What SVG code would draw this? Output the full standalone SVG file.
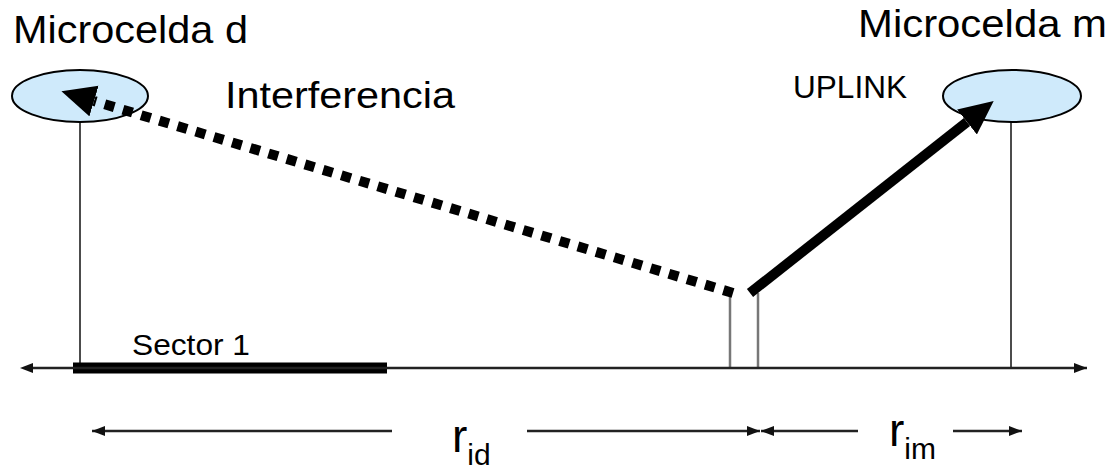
<svg xmlns="http://www.w3.org/2000/svg" width="1116" height="472" viewBox="0 0 1116 472">
<style>
text{font-family:"Liberation Sans",Arial,sans-serif;fill:#000}
.cell{fill:#cfeafb;stroke:#000;stroke-width:2}
.thin{stroke:#111;stroke-width:1.5;fill:none}
.axis{stroke:#222;stroke-width:2.5;fill:none}
.dim{stroke:#222;stroke-width:2.5;fill:none}
.gray{stroke:#777;stroke-width:2.5;fill:none}
</style>
<defs>
<marker id="ah" markerUnits="userSpaceOnUse" markerWidth="14" markerHeight="12" refX="13" refY="5" orient="auto"><path d="M0,0 L13,5 L0,10 z" fill="#111"/></marker>
<marker id="ahs" markerUnits="userSpaceOnUse" markerWidth="14" markerHeight="12" refX="0" refY="5" orient="auto-start-reverse"><path d="M0,0 L13,5 L0,10 z" fill="#111"/></marker>
<marker id="big" markerUnits="userSpaceOnUse" markerWidth="36" markerHeight="34" refX="0" refY="16" orient="auto"><path d="M0,0 L34,16 L0,32 z" fill="#000"/></marker>
</defs>
<g id="microcelda-d">
<line class="thin" x1="80" y1="122" x2="80" y2="368"/>
<ellipse class="cell" cx="80" cy="96" rx="68" ry="26"/>
<text x="13" y="43" font-size="39" textLength="235" lengthAdjust="spacingAndGlyphs">Microcelda d</text>
</g>
<g id="microcelda-m">
<line class="thin" x1="1011" y1="122" x2="1011" y2="368"/>
<ellipse class="cell" cx="1012" cy="96" rx="69" ry="26"/>
<text x="858" y="37" font-size="39" textLength="249" lengthAdjust="spacingAndGlyphs">Microcelda m</text>
</g>
<g id="mobile">
<line class="gray" x1="730" y1="293" x2="730" y2="368"/>
<line class="gray" x1="758" y1="293" x2="758" y2="368"/>
</g>
<g id="sector">
<line x1="73" y1="368" x2="387" y2="368" stroke="#000" stroke-width="11"/>
<text x="132" y="355" font-size="30" textLength="118" lengthAdjust="spacingAndGlyphs">Sector 1</text>
</g>
<g id="labels">
<text x="225" y="108" font-size="36" textLength="230" lengthAdjust="spacingAndGlyphs">Interferencia</text>
<text x="793" y="98" font-size="31" textLength="114" lengthAdjust="spacingAndGlyphs">UPLINK</text>
<text x="452" y="452" font-size="46">r<tspan font-size="30" dy="13">id</tspan></text>
<text x="889" y="446" font-size="46">r<tspan font-size="30" dy="13">im</tspan></text>
</g>
<g id="connectors">
<line class="axis" x1="33" y1="368" x2="1087" y2="368" marker-start="url(#ahs)" marker-end="url(#ah)"/>
<line class="dim" x1="392" y1="431" x2="92" y2="431" marker-end="url(#ah)"/>
<line class="dim" x1="527" y1="431" x2="760" y2="431" marker-end="url(#ah)"/>
<line class="dim" x1="858" y1="431" x2="761" y2="431" marker-end="url(#ah)"/>
<line class="dim" x1="953" y1="431" x2="1022" y2="431" marker-end="url(#ah)"/>
<line x1="733" y1="293" x2="94" y2="101" stroke="#000" stroke-width="10" stroke-dasharray="10 9" marker-end="url(#big)"/>
<line x1="750" y1="293" x2="967" y2="122" stroke="#000" stroke-width="10" marker-end="url(#big)"/>
</g>
</svg>
